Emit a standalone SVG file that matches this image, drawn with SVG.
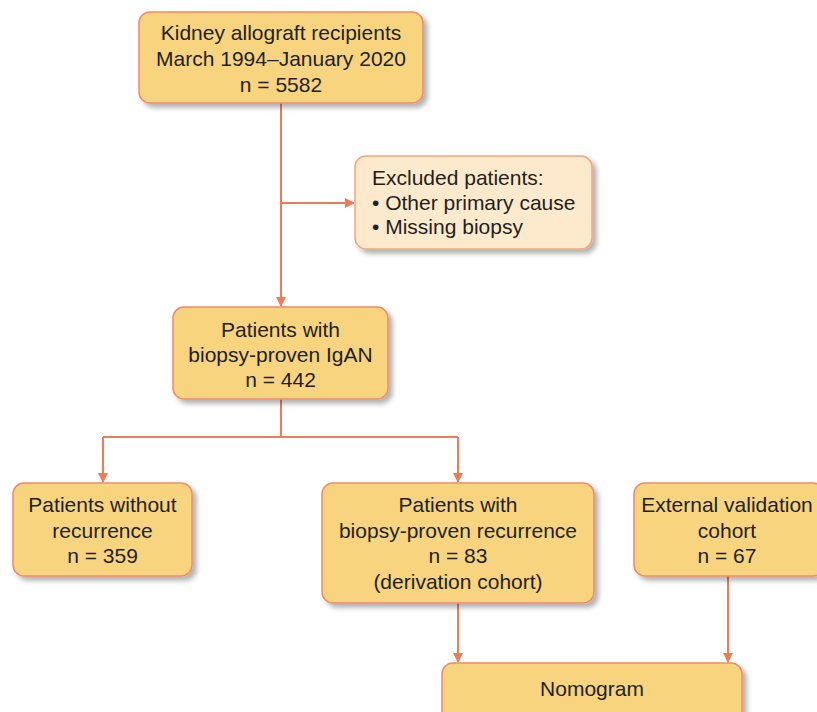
<svg xmlns="http://www.w3.org/2000/svg" width="817" height="712" viewBox="0 0 817 712">
<defs>
<filter id="sh" x="-10%" y="-10%" width="130%" height="140%">
<feDropShadow dx="4" dy="4" stdDeviation="2.5" flood-color="#000" flood-opacity="0.3"/>
</filter>
<marker id="ar" markerWidth="10" markerHeight="10" refX="9" refY="5" orient="auto" markerUnits="userSpaceOnUse">
<path d="M0,0 L10,5 L0,10 Z" fill="#ec7d58"/>
</marker>
<style>
.box{fill:#f8d47f;stroke:#ee8c67;stroke-width:1.5;filter:url(#sh)}
.lbox{fill:#fde9cc;stroke:#f2a57f;stroke-width:1.5;filter:url(#sh)}
text{font-family:"Liberation Sans",Arial,sans-serif;font-size:21px;fill:#231f20}
.c{text-anchor:middle}
.ln{fill:none;stroke:#ec7d58;stroke-width:2}
</style>
</defs>
<rect width="817" height="712" fill="#fff"/>
<g id="connectors">
<path class="ln" d="M281,103 V306" marker-end="url(#ar)"/>
<path class="ln" d="M281,203 H354" marker-end="url(#ar)"/>
<path class="ln" d="M281,399 V437 M103,437 H458"/>
<path class="ln" d="M103,437 V482" marker-end="url(#ar)"/>
<path class="ln" d="M458,437 V482" marker-end="url(#ar)"/>
<path class="ln" d="M458,603 V662" marker-end="url(#ar)"/>
<path class="ln" d="M728,576 V662" marker-end="url(#ar)"/>
</g>
<g id="recipients">
<rect class="box" x="139" y="12" width="284" height="91" rx="11"/>
<text class="c" x="281" y="40">Kidney allograft recipients</text>
<text class="c" x="281" y="66">March 1994–January 2020</text>
<text class="c" x="281" y="92">n = 5582</text>
</g>
<g id="excluded">
<rect class="lbox" x="355" y="156" width="237" height="93" rx="11"/>
<text x="372" y="185">Excluded patients:</text>
<text x="372" y="210">• Other primary cause</text>
<text x="372" y="234">• Missing biopsy</text>
</g>
<g id="igan">
<rect class="box" x="173" y="307" width="215" height="92" rx="11"/>
<text class="c" x="280.5" y="337">Patients with</text>
<text class="c" x="280.5" y="362">biopsy-proven IgAN</text>
<text class="c" x="280.5" y="387">n = 442</text>
</g>
<g id="without">
<rect class="box" x="13" y="483" width="179" height="93" rx="11"/>
<text class="c" x="102.5" y="512">Patients without</text>
<text class="c" x="102.5" y="538">recurrence</text>
<text class="c" x="102.5" y="563">n = 359</text>
</g>
<g id="recurrence">
<rect class="box" x="322" y="483" width="272" height="120" rx="11"/>
<text class="c" x="458" y="512">Patients with</text>
<text class="c" x="458" y="538">biopsy-proven recurrence</text>
<text class="c" x="458" y="563">n = 83</text>
<text class="c" x="458" y="589">(derivation cohort)</text>
</g>
<g id="external">
<rect class="box" x="634" y="483" width="190" height="93" rx="11"/>
<text class="c" x="727" y="512">External validation</text>
<text class="c" x="727" y="538">cohort</text>
<text class="c" x="727" y="563">n = 67</text>
</g>
<g id="nomogram">
<rect class="box" x="442" y="663" width="300" height="62" rx="11"/>
<text class="c" x="592" y="696">Nomogram</text>
</g>
</svg>
